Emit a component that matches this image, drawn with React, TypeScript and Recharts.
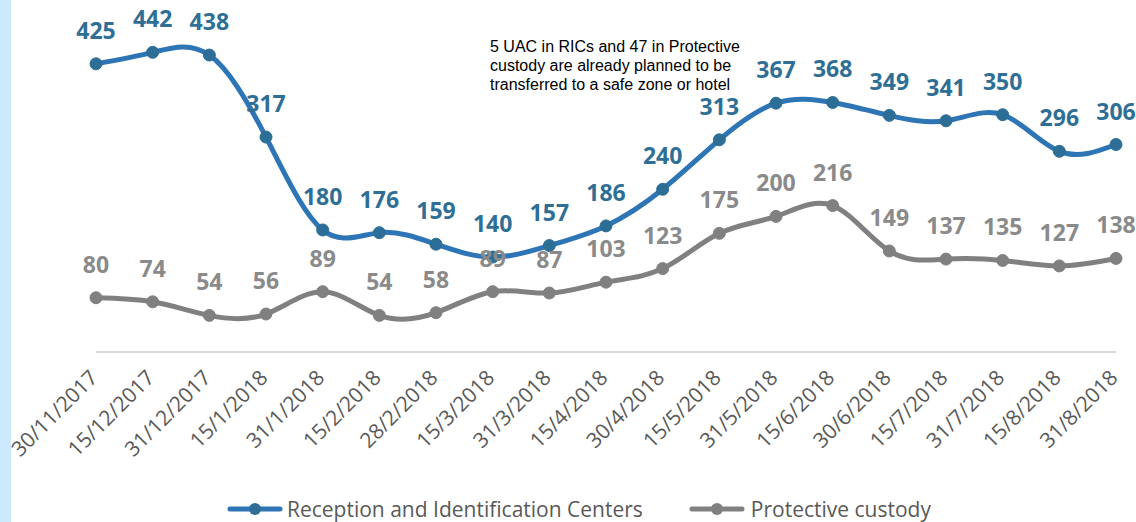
import { LineChart, Line, XAxis, YAxis, Legend, LabelList } from 'recharts';

const dates = [
  '30/11/2017', '15/12/2017', '31/12/2017', '15/1/2018', '31/1/2018', '15/2/2018', '28/2/2018',
  '15/3/2018', '31/3/2018', '15/4/2018', '30/4/2018', '15/5/2018', '31/5/2018', '15/6/2018',
  '30/6/2018', '15/7/2018', '31/7/2018', '15/8/2018', '31/8/2018',
];
const ricValues = [425, 442, 438, 317, 180, 176, 159, 140, 157, 186, 240, 313, 367, 368, 349, 341, 350, 296, 306];
const custodyValues = [80, 74, 54, 56, 89, 54, 58, 89, 87, 103, 123, 175, 200, 216, 149, 137, 135, 127, 138];

const RIC_NAME = 'Reception and Identification Centers';
const CUSTODY_NAME = 'Protective custody';
const note = ['5 UAC in RICs and 47 in Protective', 'custody are already planned to be', 'transferred to a safe zone or hotel'];

const BLUE = '#2E75B6';
const BLUE_DOT = '#2C6E96';
const BLUE_LABEL = '#2F6F95';
const GREY = '#808080';
const GREY_LABEL = '#8A8A8A';

const data = dates.map((date, i) => ({ date, ric: ricValues[i], custody: custodyValues[i] }));

const DateTick = ({ x, y, payload }: any) => (
  <text
    x={x + 3}
    y={y + 19}
    transform={`rotate(-45 ${x + 3} ${y + 19})`}
    textAnchor="end"
    fill="#595959"
    fontSize={21}
    fontFamily="'Open Sans', sans-serif"
  >
    {payload.value}
  </text>
);

const LegendIcon = ({ color, dot }: { color: string; dot: string }) => (
  <svg width={56} height={16} style={{ display: 'block' }}>
    <line x1={3} y1={8} x2={53} y2={8} stroke={color} strokeWidth={5} strokeLinecap="round" />
    <circle cx={28} cy={8} r={6} fill={dot} />
  </svg>
);

const ChartLegend = () => (
  <div
    style={{
      display: 'flex',
      alignItems: 'center',
      height: 26,
      paddingLeft: 131,
      fontFamily: "'Open Sans', sans-serif",
      fontSize: 21,
      lineHeight: '24px',
      color: '#595959',
      whiteSpace: 'nowrap',
    }}
  >
    <LegendIcon color={BLUE} dot={BLUE_DOT} />
    <span style={{ marginLeft: 4 }}>{RIC_NAME}</span>
    <span style={{ width: 46 }} />
    <LegendIcon color={GREY} dot={GREY} />
    <span style={{ marginLeft: 6 }}>{CUSTODY_NAME}</span>
  </div>
);

export default function App() {
  return (
    <div style={{ position: 'absolute', left: 0, top: 0, width: 1136, height: 522, background: '#fff', overflow: 'hidden' }}>
      <div style={{ position: 'absolute', left: 0, top: 0, width: 11, height: 522, background: '#CDE9FE' }} />
      <LineChart width={1136} height={522} data={data} margin={{ top: 13, right: 20, bottom: 0, left: 96 }}>
        <XAxis
          dataKey="date"
          interval={0}
          tickLine={false}
          axisLine={{ stroke: '#D9D9D9', strokeWidth: 2 }}
          tick={<DateTick />}
          height={144}
        />
        <YAxis hide domain={[0, 500]} />
        <Legend verticalAlign="bottom" content={<ChartLegend />} />
        <Line
          type="natural"
          dataKey="ric"
          name={RIC_NAME}
          stroke={BLUE}
          strokeWidth={5}
          dot={{ r: 6, fill: BLUE_DOT, stroke: BLUE_DOT, strokeWidth: 1 }}
          isAnimationActive={false}
        >
          <LabelList
            dataKey="ric"
            position="top"
            offset={25}
            fill={BLUE_LABEL}
            fontSize={23}
            fontWeight="bold"
            fontFamily="'Open Sans', sans-serif"
          />
        </Line>
        <Line
          type="natural"
          dataKey="custody"
          name={CUSTODY_NAME}
          stroke={GREY}
          strokeWidth={5}
          dot={{ r: 6, fill: GREY, stroke: GREY, strokeWidth: 1 }}
          isAnimationActive={false}
        >
          <LabelList
            dataKey="custody"
            position="top"
            offset={25}
            fill={GREY_LABEL}
            fontSize={23}
            fontWeight="bold"
            fontFamily="'Open Sans', sans-serif"
          />
        </Line>
      </LineChart>
      <div
        style={{
          position: 'absolute',
          left: 490,
          top: 37,
          fontFamily: "'Liberation Sans', Arial, sans-serif",
          fontSize: 16,
          lineHeight: '19px',
          color: '#000',
          whiteSpace: 'nowrap',
        }}
      >
        {note.map((line) => (
          <div key={line}>{line}</div>
        ))}
      </div>
    </div>
  );
}
